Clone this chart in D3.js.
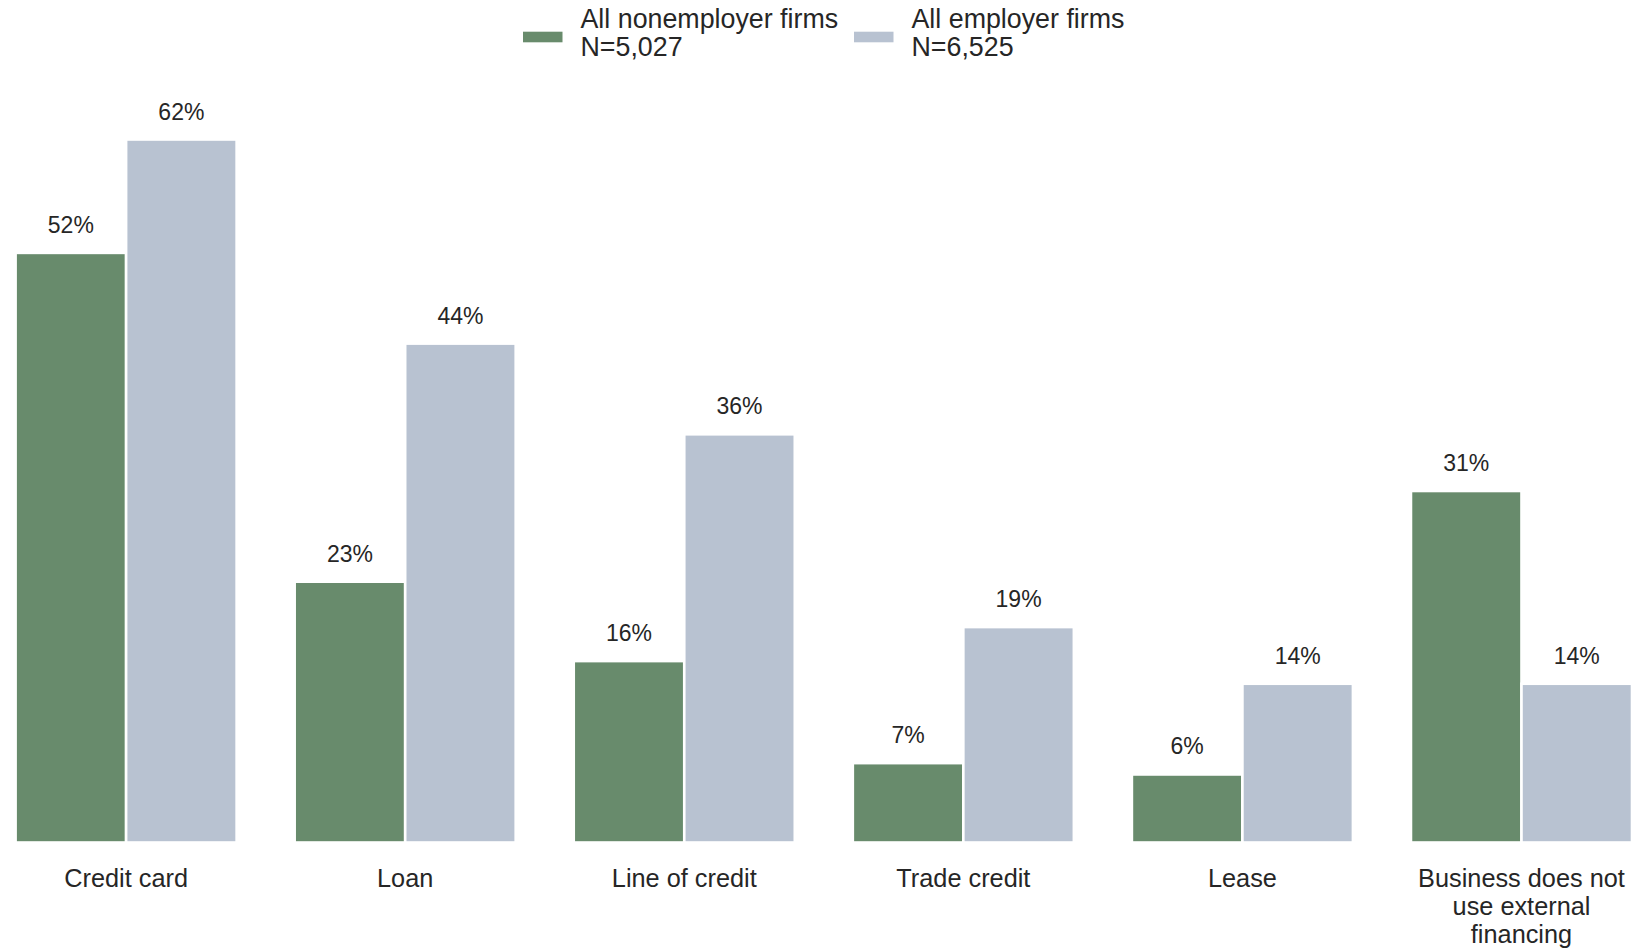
<!DOCTYPE html>
<html>
<head>
<meta charset="utf-8">
<script src="https://cdn.jsdelivr.net/npm/d3@7"></script>
<style>
  html, body { margin: 0; padding: 0; background: #ffffff; }
  svg { display: block; }
  text { font-family: "Liberation Sans", Arial, Helvetica, sans-serif; fill: #262626; }
</style>
</head>
<body>
<svg id="chart" width="1634" height="949"></svg>
<script>
// Share of firms using each type of financing
const categories = ["Credit card", "Loan", "Line of credit", "Trade credit", "Lease", "Business does not use external financing"];
const categoryLines = [["Credit card"], ["Loan"], ["Line of credit"], ["Trade credit"], ["Lease"], ["Business does not", "use external", "financing"]];
const seriesNames = ["All nonemployer firms", "All employer firms"];
const seriesSizes = ["N=5,027", "N=6,525"];
const nonemployer = [52, 23, 16, 7, 6, 31];
const employer = [62, 44, 36, 19, 14, 14];
const colors = ["#688b6c", "#b8c2d1"];

const svg = d3.select("#chart");
const baseY = 842.5;
const topY = 139.5;

const x0 = d3.scaleBand()
  .domain(categories)
  .range([15.6, 1632])
  .paddingInner(0.208)
  .paddingOuter(0);

const x1 = d3.scaleBand()
  .domain(seriesNames)
  .range([0, x0.bandwidth()])
  .padding(0);

const y = d3.scaleLinear()
  .domain([0, d3.max(employer.concat(nonemployer))])
  .range([baseY, topY]);

const seriesValues = [nonemployer, employer];

const groups = svg.append("g")
  .selectAll("g")
  .data(categories)
  .join("g")
  .attr("transform", d => `translate(${x0(d)},0)`);

const bars = groups.selectAll("g.bar")
  .data((d, i) => seriesNames.map((s, k) => ({ series: s, k, value: seriesValues[k][i] })))
  .join("g")
  .attr("class", "bar");

bars.append("rect")
  .attr("x", d => x1(d.series))
  .attr("y", d => y(d.value))
  .attr("width", x1.bandwidth())
  .attr("height", d => baseY - y(d.value))
  .attr("fill", d => colors[d.k])
  .attr("stroke", "#ffffff")
  .attr("stroke-width", 2.6);

bars.append("text")
  .attr("x", d => x1(d.series) + x1.bandwidth() / 2)
  .attr("y", d => y(d.value) - 20)
  .attr("text-anchor", "middle")
  .attr("font-size", 23)
  .text(d => d.value + "%");

// Category axis labels
const catLabels = svg.append("g")
  .selectAll("text")
  .data(categories)
  .join("text")
  .attr("x", d => x0(d) + x0.bandwidth() / 2)
  .attr("y", 887)
  .attr("text-anchor", "middle")
  .attr("font-size", 25.3);

catLabels.selectAll("tspan")
  .data((d, i) => categoryLines[i])
  .join("tspan")
  .attr("x", function() { return this.parentNode.getAttribute("x"); })
  .attr("dy", (d, j) => j === 0 ? 0 : 27.8)
  .text(d => d);

// Legend
const legendX = [523, 854];
const legend = svg.append("g")
  .selectAll("g")
  .data(seriesNames)
  .join("g")
  .attr("transform", (d, i) => `translate(${legendX[i]},0)`);

legend.append("rect")
  .attr("x", 0)
  .attr("y", 31.7)
  .attr("width", 39.5)
  .attr("height", 10.6)
  .attr("fill", (d, i) => colors[i]);

legend.append("text")
  .attr("x", 57.5)
  .attr("y", 27.5)
  .attr("font-size", 26.8)
  .text(d => d);

legend.append("text")
  .attr("x", 57.5)
  .attr("y", 55.5)
  .attr("font-size", 26.8)
  .text((d, i) => seriesSizes[i]);
</script>
</body>
</html>
